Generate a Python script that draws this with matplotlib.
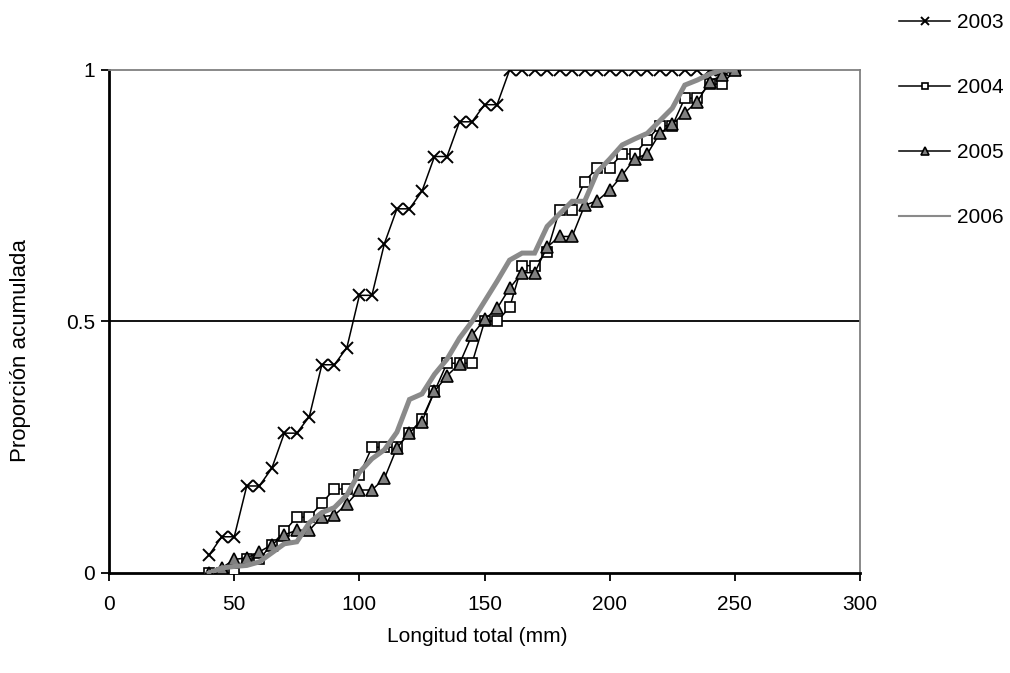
import numpy as np
import matplotlib
matplotlib.use("Agg")
from matplotlib import pyplot as plt

plt.rcParams['font.family'] = ['Liberation Sans', 'DejaVu Sans']

# lengths (mm), one point every 5 mm
longitud = list(range(40, 255, 5))

# cumulative proportion per year
y2003 = [0.036, 0.072, 0.072, 0.173, 0.173, 0.208, 0.278, 0.278, 0.311, 0.414,
         0.414, 0.448, 0.552, 0.552, 0.655, 0.724, 0.724, 0.759, 0.828, 0.828,
         0.897, 0.897, 0.931, 0.931, 1.0, 1.0, 1.0, 1.0, 1.0, 1.0,
         1.0, 1.0, 1.0, 1.0, 1.0, 1.0, 1.0, 1.0, 1.0, 1.0,
         1.0, 1.0, 1.0]
y2004 = [0.0, 0.0, 0.0, 0.028, 0.028, 0.056, 0.083, 0.111, 0.111, 0.139,
         0.167, 0.167, 0.194, 0.25, 0.25, 0.25, 0.278, 0.306, 0.361, 0.417,
         0.417, 0.417, 0.5, 0.5, 0.528, 0.611, 0.611, 0.639, 0.722, 0.722,
         0.778, 0.806, 0.806, 0.833, 0.833, 0.861, 0.889, 0.889, 0.944, 0.944,
         0.972, 0.972, 1.0]
y2005 = [0.0, 0.01, 0.027, 0.03, 0.042, 0.056, 0.076, 0.085, 0.085, 0.112,
         0.115, 0.137, 0.165, 0.165, 0.188, 0.249, 0.279, 0.301, 0.361, 0.392,
         0.416, 0.473, 0.504, 0.526, 0.566, 0.597, 0.597, 0.648, 0.669, 0.669,
         0.731, 0.74, 0.761, 0.791, 0.824, 0.833, 0.874, 0.892, 0.915, 0.937,
         0.977, 0.99, 1.0]
y2006 = [0.0, 0.01, 0.013, 0.015, 0.022, 0.04, 0.058, 0.062, 0.1, 0.12,
         0.13, 0.155, 0.2, 0.227, 0.245, 0.28, 0.345, 0.356, 0.395, 0.425,
         0.467, 0.5, 0.54, 0.58, 0.622, 0.636, 0.636, 0.689, 0.714, 0.739,
         0.739, 0.797, 0.823, 0.851, 0.863, 0.874, 0.899, 0.924, 0.97, 0.98,
         0.992, 1.0, 1.0]

fig = plt.figure(figsize=(10.1, 6.73), dpi=100)
ax = fig.add_axes([0.108, 0.1486, 0.7435, 0.7474])

ax.plot(longitud, y2003, color='black', lw=1.1, marker='x', ms=8, mew=1.4,
        label='2003', zorder=3)
ax.plot(longitud, y2004, color='black', lw=1.1, marker='s', ms=7, mfc='white',
        mec='black', mew=1.2, label='2004', zorder=4)
ax.plot(longitud, y2005, color='black', lw=1.1, marker='^', ms=9, mfc='#808080',
        mec='black', mew=1.2, label='2005', zorder=5)
ax.plot(longitud, y2006, color='#8a8a8a', lw=3.6, label='2006', zorder=6,
        solid_joinstyle='miter')

# gridline at 0.5
ax.axhline(0.5, color='black', lw=1.3, zorder=1)

ax.set_xlim(0, 300)
ax.set_ylim(0, 1)
ax.set_xticks([0, 50, 100, 150, 200, 250, 300])
ax.set_yticks([0, 0.5, 1])
ax.set_yticklabels(['0', '0.5', '1'])
ax.tick_params(direction='out', length=6, width=1.3, labelsize=15)
ax.tick_params(axis='x', pad=10)
ax.tick_params(axis='y', pad=4)

for s in ['left', 'bottom']:
    ax.spines[s].set_color('black')
    ax.spines[s].set_linewidth(2)
for s in ['top', 'right']:
    ax.spines[s].set_color('#808080')
    ax.spines[s].set_linewidth(1.3)

ax.set_xlabel('Longitud total (mm)', fontsize=15)
ax.set_ylabel('Proporción acumulada', fontsize=16)
ax.xaxis.set_label_coords(0.49, -0.107)
ax.yaxis.set_label_coords(-0.104, 0.443)

leg = ax.legend(loc='upper left', bbox_to_anchor=(1.041, 1.129), frameon=False,
                fontsize=15, labelspacing=2.2, handlelength=2.45,
                handletextpad=0.35, markerscale=0.65, borderaxespad=0)
for h in leg.legend_handles:
    if h.get_label() == '2006':
        h.set_linewidth(1.5)

fig.savefig('out.png', dpi=100)
